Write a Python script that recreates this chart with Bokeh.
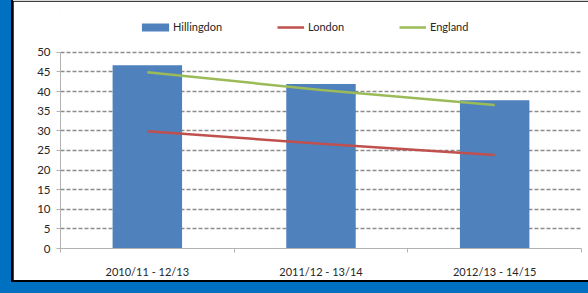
from bokeh.plotting import figure
from bokeh.models import FixedTicker, Legend, LegendItem
from bokeh.embed import file_html
from bokeh.resources import INLINE

categories = ["2010/11 - 12/13", "2011/12 - 13/14", "2012/13 - 14/15"]
hillingdon = [46.7, 41.9, 37.8]
london = [29.9, 26.7, 23.8]
england = [44.9, 40.4, 36.6]
y_ticks = [0, 5, 10, 15, 20, 25, 30, 35, 40, 45, 50]

n = len(categories)
xs = [i + 0.5 for i in range(n)]
bounds = list(range(n + 1))

FONT = "Lato"
TXT = "#262626"

p = figure(width=575, height=279, x_range=(0, n), y_range=(0, 60.4),
           output_backend="svg", toolbar_location=None,
           min_border_left=47, min_border_right=7,
           min_border_top=10, min_border_bottom=31)
p.background_fill_color = "white"
p.border_fill_color = "white"
p.outline_line_color = "white"
p.outline_line_width = 1

p.xgrid.visible = False
p.ygrid.ticker = FixedTicker(ticks=y_ticks)
p.ygrid.grid_line_color = "#8c8c8c"
p.ygrid.grid_line_dash = "4 2"
p.ygrid.grid_line_width = 1.5

p.yaxis.ticker = FixedTicker(ticks=y_ticks, minor_ticks=[])
p.yaxis.bounds = (y_ticks[0], y_ticks[-1])
p.yaxis.axis_line_color = "#b3b3b3"
p.yaxis.major_tick_line_color = "#b3b3b3"
p.yaxis.major_tick_out = 4
p.yaxis.major_tick_in = 0
p.yaxis.minor_tick_line_color = None
p.yaxis.major_label_standoff = 6
p.yaxis.major_label_text_font = FONT
p.yaxis.major_label_text_font_size = "11.5px"
p.yaxis.major_label_text_color = TXT

p.xaxis.ticker = FixedTicker(ticks=xs, minor_ticks=bounds)
p.xaxis.major_label_overrides = {x: c for x, c in zip(xs, categories)}
p.xaxis.axis_line_color = "#b3b3b3"
p.xaxis.major_tick_line_color = None
p.xaxis.major_tick_out = 0
p.xaxis.major_tick_in = 0
p.xaxis.minor_tick_line_color = "#b3b3b3"
p.xaxis.minor_tick_out = 4
p.xaxis.minor_tick_in = 0
p.xaxis.major_label_standoff = 12
p.xaxis.major_label_text_font = FONT
p.xaxis.major_label_text_font_size = "11px"
p.xaxis.major_label_text_color = TXT

bars = p.vbar(x=xs, top=hillingdon, width=0.4, fill_color="#4F81BD", line_color=None)
l_lon = p.line(xs, london, line_color="#C0504D", line_width=2.5)
l_eng = p.line(xs, england, line_color="#9BBB59", line_width=2.5)

def make_legend(item, loc, gw, standoff):
    return Legend(items=[item], location=loc, orientation="horizontal",
                  glyph_width=gw, glyph_height=10, label_standoff=standoff,
                  padding=0, margin=0, spacing=0,
                  border_line_color=None, background_fill_alpha=0,
                  label_text_font=FONT, label_text_font_size="11px",
                  label_text_color=TXT)

p.add_layout(make_legend(LegendItem(label="Hillingdon", renderers=[bars]), (78, 215), 34, 1), "center")
p.add_layout(make_legend(LegendItem(label="London", renderers=[l_lon]), (217, 215), 27, 4), "center")
p.add_layout(make_legend(LegendItem(label="England", renderers=[l_eng]), (339, 215), 27, 4), "center")

css = ("<style>html,body{margin:0 !important;overflow:hidden !important;}"
       "body{padding:1px 0 0 13px !important;box-sizing:border-box !important;"
       "background:linear-gradient(#d9d9d9,#d9d9d9) 13px 0/575px 1px no-repeat,"
       "linear-gradient(#000,#000) 11px 0/577px 282px no-repeat,#0070C0 !important;}</style>")
html = file_html(p, INLINE)
html = html.replace("</head>", css + "</head>", 1)
open("out.html", "w").write(html)
